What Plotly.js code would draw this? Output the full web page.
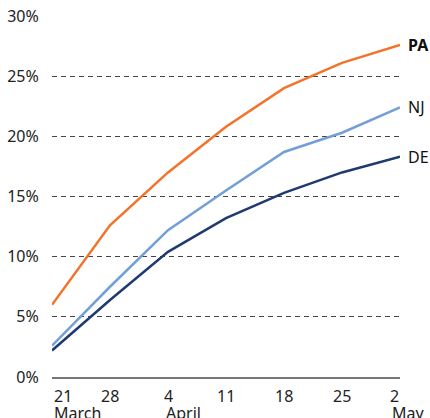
<!DOCTYPE html>
<html><head><meta charset="utf-8">
<script src="https://cdn.plot.ly/plotly-3.0.1.min.js"></script>
<style>body{margin:0;background:#fff}#c{width:430px;height:418px}</style>
</head><body><div id="c"></div>
<script>
const dates = ["2020-03-21","2020-03-28","2020-04-04","2020-04-11","2020-04-18","2020-04-25","2020-05-02"];
const dayLabels = ["21","28","4","11","18","25","2"];
const monthLabels = ["March","","April","","","","May"];
const PA = [6.0, 12.6, 17.0, 20.8, 24.0, 26.1, 27.6];
const NJ = [2.6, 7.5, 12.2, 15.5, 18.7, 20.3, 22.4];
const DE = [2.2, 6.4, 10.4, 13.2, 15.3, 17.0, 18.3];
const yTicks = [0, 5, 10, 15, 20, 25, 30];

const font = "Noto Sans, Open Sans, sans-serif";
const mk = (y, color) => ({x: dates, y: y, type: "scatter", mode: "lines",
  line: {color: color, width: 2.5}, hoverinfo: "skip", cliponaxis: false});
const traces = [mk(DE, "#1e3a70"), mk(NJ, "#729fd6"), mk(PA, "#f4732a")];

const ann = [];
const last = dates.length - 1;
const anchors = ["left","center","center","center","center","center","center"];
dates.forEach((d, i) => {
  ann.push({x: d, y: 0, xref: "x", yref: "paper", yanchor: "top", yshift: -6,
    xanchor: anchors[i], xshift: i === last ? -6 : 0,
    text: dayLabels[i], showarrow: false, font: {family: font, size: 16, color: "#222"}});
  if (monthLabels[i]) {
    ann.push({x: d, y: 0, xref: "x", yref: "paper", yanchor: "top", yshift: -23,
      xanchor: "left", xshift: i === 0 ? 0 : (i === last ? -10 : -4),
      text: monthLabels[i], showarrow: false, font: {family: font, size: 16, color: "#222"}});
  }
});
[["PA", PA, true], ["NJ", NJ, false], ["DE", DE, false]].forEach(([name, arr, bold]) => {
  ann.push({x: dates[last], y: arr[last], xref: "x", yref: "y", xanchor: "left", xshift: 6,
    yanchor: "middle", text: bold ? "<b>" + name + "</b>" : name, showarrow: false,
    font: {family: font, size: 16, color: "#111"}});
});

const layout = {
  width: 430, height: 418,
  margin: {l: 52, r: 30, t: 16, b: 41},
  paper_bgcolor: "#fff", plot_bgcolor: "#fff",
  showlegend: false,
  xaxis: {type: "date", range: [dates[0], dates[last]], showgrid: false, zeroline: false,
    showticklabels: false, showline: true, linecolor: "#777", linewidth: 2, ticks: ""},
  yaxis: {range: [0, 30], tickvals: yTicks, ticktext: yTicks.map(v => v + "%"),
    showgrid: true, gridcolor: "#444", gridwidth: 1, griddash: "5px,4px",
    zeroline: false, showline: false, ticks: "outside", ticklen: 9, tickcolor: "rgba(0,0,0,0)",
    tickfont: {family: font, size: 16, color: "#222"}},
  annotations: ann
};
Plotly.newPlot("c", traces, layout, {displayModeBar: false, staticPlot: true});
</script></body></html>
